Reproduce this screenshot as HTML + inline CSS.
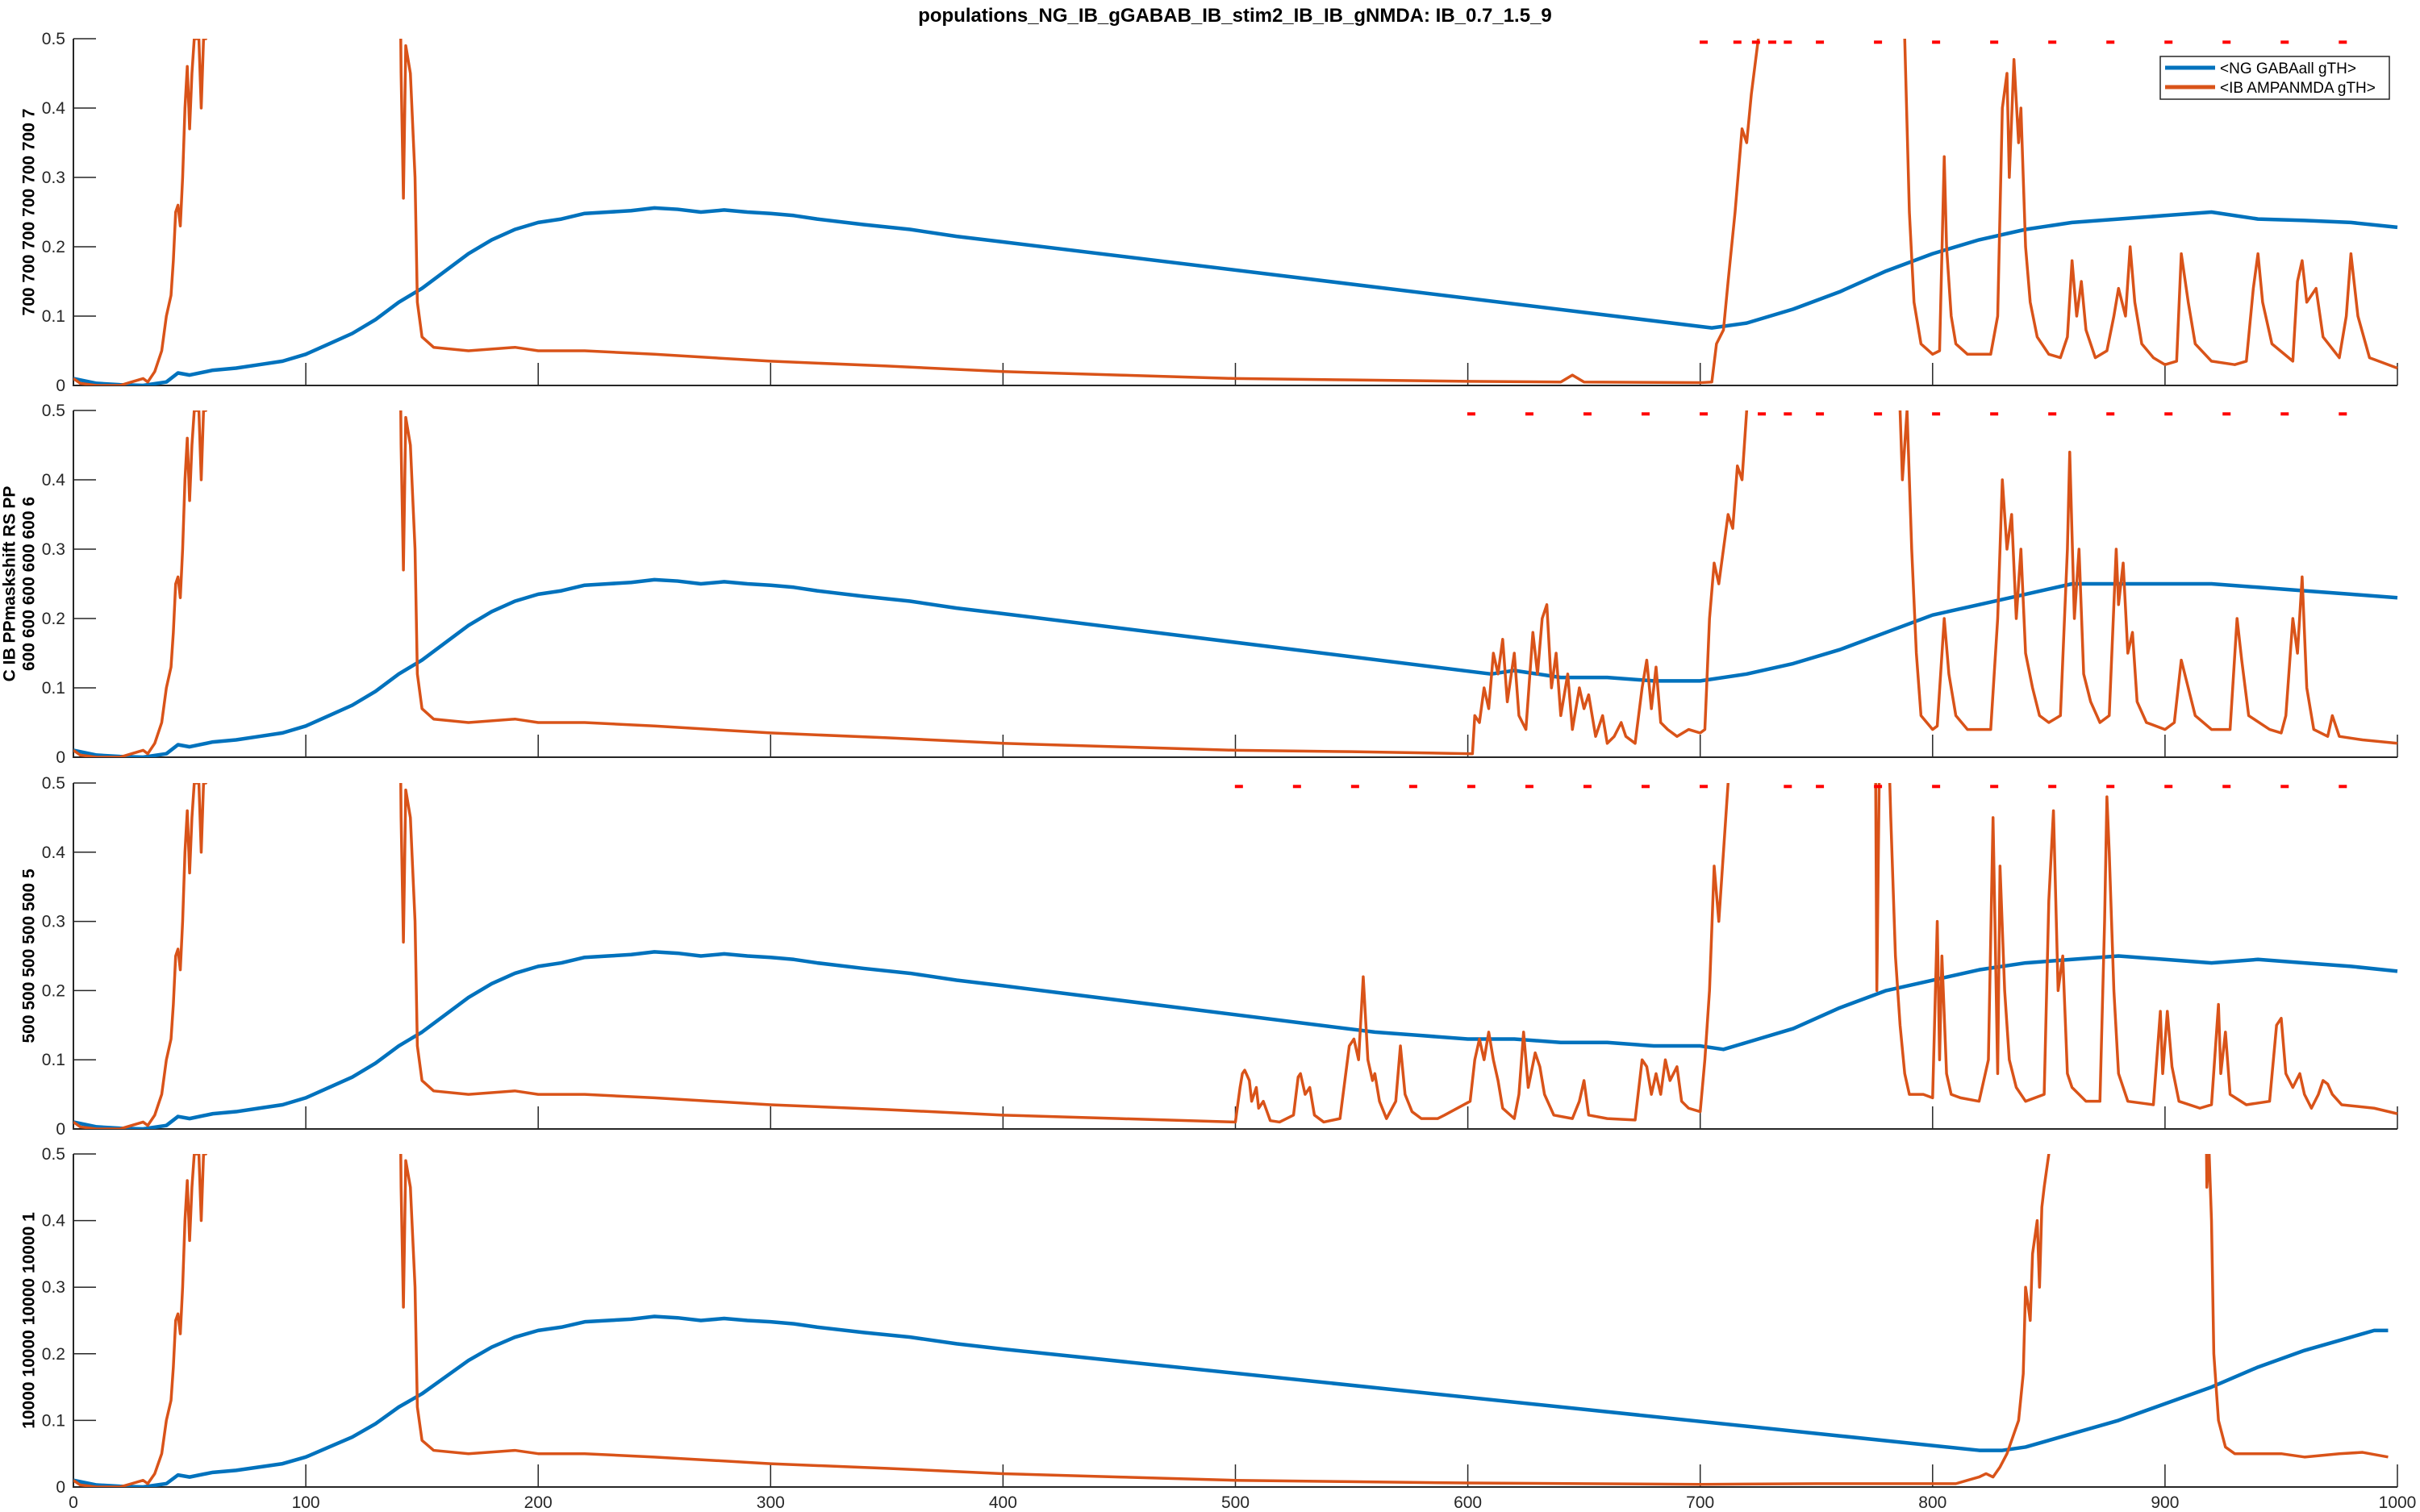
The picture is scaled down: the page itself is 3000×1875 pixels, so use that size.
<!DOCTYPE html>
<html><head><meta charset="utf-8"><style>
html,body{margin:0;padding:0;background:#fff;}
svg{display:block;font-family:"Liberation Sans",sans-serif;}
</style></head><body>
<svg id="chart" width="3000" height="1875" viewBox="0 0 3000 1875" xmlns="http://www.w3.org/2000/svg">
<text x="1531" y="27" text-anchor="middle" font-size="24" font-weight="bold" fill="#000">populations_NG_IB_gGABAB_IB_stim2_IB_IB_gNMDA: IB_0.7_1.5_9</text>
<g id="panels"></g>
<g>
<rect x="2678" y="70" width="284" height="53" fill="#fff" stroke="#262626" stroke-width="1.5"/>
<line x1="2684" y1="84" x2="2746" y2="84" stroke="#0072BD" stroke-width="5"/>
<text x="2752" y="91" font-size="19" fill="#000">&lt;NG GABAall gTH&gt;</text>
<line x1="2684" y1="108" x2="2746" y2="108" stroke="#D95319" stroke-width="5"/>
<text x="2752" y="115" font-size="19" fill="#000">&lt;IB AMPANMDA gTH&gt;</text>
</g>
</svg>
<script>
const xTicks=[0,100,200,300,400,500,600,700,800,900,1000];
const yTicks=[0,0.1,0.2,0.3,0.4,0.5];
const yTickLabels=["0","0.1","0.2","0.3","0.4","0.5"];
const yLabels1=["700 700 700 700 700 700 7"];
const yLabels2=["C IB PPmaskshift RS PP","600 600 600 600 600 6"];
const yLabels3=["500 500 500 500 500 5"];
const yLabels4=["10000 10000 10000 10000 1"];
// shared early blue
const blueT0=[0,10,20,30,40,45,50,60,70,80,90,100,110,120,130,140,150,160,170,180,190,200,210,220,230,240,250,260,270,280,290,300,310,320,340,360,380,400];
const blueV0=[0.01,0.003,0.001,0,0.005,0.018,0.015,0.022,0.025,0.03,0.035,0.045,0.06,0.075,0.095,0.12,0.14,0.165,0.19,0.21,0.225,0.235,0.24,0.248,0.25,0.252,0.256,0.254,0.25,0.253,0.25,0.248,0.245,0.24,0.232,0.225,0.215,0.207];
const blueT1=[705,720,740,760,780,800,820,840,860,880,900,920,940,960,980,1000];
const blueV1=[0.083,0.09,0.11,0.135,0.165,0.19,0.21,0.225,0.235,0.24,0.245,0.25,0.24,0.238,0.235,0.228];
const blueT2=[610,620,640,660,680,700,720,740,760,780,800,820,840,860,880,900,920,940,960,980,1000];
const blueV2=[0.12,0.125,0.115,0.115,0.11,0.11,0.12,0.135,0.155,0.18,0.205,0.22,0.235,0.25,0.25,0.25,0.25,0.245,0.24,0.235,0.23];
const blueT3=[560,580,600,620,640,660,680,700,710,720,740,760,780,800,820,840,860,880,900,920,940,960,980,1000];
const blueV3=[0.14,0.135,0.13,0.13,0.125,0.125,0.12,0.12,0.115,0.125,0.145,0.175,0.2,0.215,0.23,0.24,0.245,0.25,0.245,0.24,0.245,0.24,0.235,0.228];
const blueT4=[820,830,840,860,880,900,920,940,960,980,990,996];
const blueV4=[0.055,0.055,0.06,0.08,0.1,0.125,0.15,0.18,0.205,0.225,0.235,0.235];
// shared early orange
const orT0=[0,3,10,20,25,30,32,35,38,40,42,43,44,45,46,47,48,49,50,51,52,54,55,56,57,58,140,141,142,143,145,147,148,150,155,170,190,200,220,250,300,350,400,450];
const orV0=[0.01,0.003,0,0,0.005,0.01,0.005,0.02,0.05,0.1,0.13,0.18,0.25,0.26,0.23,0.3,0.4,0.46,0.37,0.45,0.5,0.5,0.4,0.5,0.5,0.8,0.8,0.45,0.27,0.49,0.45,0.3,0.12,0.07,0.055,0.05,0.055,0.05,0.05,0.045,0.035,0.028,0.02,0.015];
const orT1=[500,550,600,640,645,650,700,705,707,710,712,715,718,720,722,725,727,787,788,790,792,795,800,803,805,806,808,810,815,825,828,830,832,833,835,837,838,840,842,845,850,855,858,860,862,864,866,870,875,878,880,883,885,887,890,895,900,905,907,910,913,920,930,935,938,940,942,946,955,957,959,961,965,968,975,978,980,983,988,1000];
const orV1=[0.01,0.008,0.006,0.005,0.015,0.005,0.004,0.005,0.06,0.08,0.15,0.25,0.37,0.35,0.42,0.5,0.8,0.8,0.5,0.25,0.12,0.06,0.045,0.05,0.33,0.2,0.1,0.06,0.045,0.045,0.1,0.4,0.45,0.3,0.47,0.35,0.4,0.2,0.12,0.07,0.045,0.04,0.07,0.18,0.1,0.15,0.08,0.04,0.05,0.1,0.14,0.1,0.2,0.12,0.06,0.04,0.03,0.035,0.19,0.12,0.06,0.035,0.03,0.035,0.14,0.19,0.12,0.06,0.035,0.15,0.18,0.12,0.14,0.07,0.04,0.1,0.19,0.1,0.04,0.025];
const orT2=[500,550,602,603,605,607,609,611,613,615,617,620,622,625,628,630,632,634,636,638,640,643,645,648,650,652,655,658,660,663,666,668,672,675,677,679,681,683,686,690,695,700,702,704,706,708,710,712,714,716,718,720,722,785,786,787,789,791,793,795,800,802,805,807,810,815,825,828,830,832,834,836,838,840,843,846,850,855,858,859,861,863,865,868,872,876,879,880,882,884,886,888,892,900,904,907,910,913,920,928,931,933,936,945,950,952,955,957,959,961,964,970,972,975,985,1000];
const orV2=[0.01,0.008,0.005,0.06,0.05,0.1,0.07,0.15,0.12,0.17,0.08,0.15,0.06,0.04,0.18,0.12,0.2,0.22,0.1,0.15,0.06,0.12,0.04,0.1,0.07,0.09,0.03,0.06,0.02,0.03,0.05,0.03,0.02,0.1,0.14,0.07,0.13,0.05,0.04,0.03,0.04,0.035,0.04,0.2,0.28,0.25,0.3,0.35,0.33,0.42,0.4,0.5,0.8,0.8,0.5,0.4,0.5,0.3,0.15,0.06,0.04,0.045,0.2,0.12,0.06,0.04,0.04,0.2,0.4,0.3,0.35,0.2,0.3,0.15,0.1,0.06,0.05,0.06,0.3,0.44,0.2,0.3,0.12,0.08,0.05,0.06,0.3,0.22,0.28,0.15,0.18,0.08,0.05,0.04,0.05,0.14,0.1,0.06,0.04,0.04,0.2,0.14,0.06,0.04,0.035,0.06,0.2,0.15,0.26,0.1,0.04,0.03,0.06,0.03,0.025,0.02];
const orT3=[500,502,503,504,506,507,509,510,512,515,519,525,527,528,530,532,534,538,545,549,551,553,555,557,559,560,562,565,569,571,573,576,580,587,590,601,603,605,607,609,611,613,615,620,622,624,626,629,631,633,637,645,648,650,652,660,672,675,677,679,681,683,685,687,690,692,695,700,702,704,706,708,710,712,714,775,776,777,779,782,784,786,788,790,796,800,802,803,804,806,808,812,820,824,826,828,829,831,833,836,840,848,850,852,854,856,858,860,866,872,874,875,876,878,880,884,895,898,899,901,903,906,915,920,923,924,926,928,935,945,948,950,952,955,958,960,963,966,968,970,972,976,990,1000];
const orV3=[0.01,0.06,0.08,0.085,0.07,0.04,0.06,0.03,0.04,0.012,0.01,0.02,0.075,0.08,0.05,0.06,0.02,0.01,0.015,0.12,0.13,0.1,0.22,0.1,0.07,0.08,0.04,0.015,0.04,0.12,0.05,0.025,0.015,0.015,0.02,0.04,0.1,0.13,0.1,0.14,0.1,0.07,0.03,0.015,0.05,0.14,0.06,0.11,0.09,0.05,0.02,0.015,0.04,0.07,0.02,0.015,0.013,0.1,0.09,0.05,0.08,0.05,0.1,0.07,0.09,0.04,0.03,0.025,0.1,0.2,0.38,0.3,0.4,0.5,0.8,0.8,0.2,0.5,0.8,0.45,0.25,0.15,0.08,0.05,0.05,0.045,0.3,0.1,0.25,0.08,0.05,0.045,0.04,0.1,0.45,0.08,0.38,0.2,0.1,0.06,0.04,0.05,0.33,0.46,0.2,0.25,0.08,0.06,0.04,0.04,0.3,0.48,0.4,0.2,0.08,0.04,0.035,0.17,0.08,0.17,0.09,0.04,0.03,0.035,0.18,0.08,0.14,0.05,0.035,0.04,0.15,0.16,0.08,0.06,0.08,0.05,0.03,0.05,0.07,0.065,0.05,0.035,0.03,0.022];
const orT4=[500,550,600,650,700,750,800,810,815,820,823,826,829,832,835,837,839,840,842,843,845,846,847,848,850,851,917,918,919,920,921,923,926,930,950,960,975,985,996];
const orV4=[0.01,0.008,0.006,0.005,0.004,0.005,0.005,0.005,0.01,0.015,0.02,0.015,0.03,0.05,0.08,0.1,0.17,0.3,0.25,0.35,0.4,0.3,0.42,0.45,0.5,0.8,0.8,0.45,0.5,0.4,0.2,0.1,0.06,0.05,0.05,0.045,0.05,0.052,0.045];
const dots1=[701.5,716,724,731,737.7,751.5,776.5,801.5,826.5,851.5,876.5,901.5,926.5,951.5,976.5];
const dots2=[601.5,626.5,651.5,676.5,701.5,726.5,737.7,751.5,776.5,801.5,826.5,851.5,876.5,901.5,926.5,951.5,976.5];
const dots3=[501.5,526.5,551.5,576.5,601.5,626.5,651.5,676.5,701.5,737.7,751.5,776.5,801.5,826.5,851.5,876.5,901.5,926.5,951.5,976.5];
const dots4=[];

const NS="http://www.w3.org/2000/svg";
const X0=91,X1=2972;
function xS(t){return X0+(t/1000)*(X1-X0);}
const panels=[
 {top:48,bot:478,bt:blueT1,bv:blueV1,ot:orT1,ov:orV1,dots:dots1,lab:yLabels1,cut:400,ocut:450,xl:false},
 {top:509,bot:939,bt:blueT2,bv:blueV2,ot:orT2,ov:orV2,dots:dots2,lab:yLabels2,cut:400,ocut:450,xl:false},
 {top:971,bot:1400,bt:blueT3,bv:blueV3,ot:orT3,ov:orV3,dots:dots3,lab:yLabels3,cut:400,ocut:450,xl:false},
 {top:1431,bot:1844,bt:blueT4,bv:blueV4,ot:orT4,ov:orV4,dots:dots4,lab:yLabels4,cut:400,ocut:450,xl:true}
];
const root=document.getElementById('panels');
function mk(tag,attrs,parent){const e=document.createElementNS(NS,tag);for(const k in attrs)e.setAttribute(k,attrs[k]);parent.appendChild(e);return e;}
panels.forEach((p,i)=>{
 const yS=v=>p.bot-(v/0.5)*(p.bot-p.top);
 const g=mk('g',{},root);
 
 
 const cp=mk('clipPath',{id:'clip'+i},g);
 mk('rect',{x:X0,y:p.top,width:X1-X0+4,height:p.bot-p.top},cp);
 // axes
 const ax=mk('path',{d:`M${X0},${p.top}V${p.bot}H${X1}`,fill:'none',stroke:'#262626','stroke-width':2},g);
 
 
 yTicks.forEach((v,k)=>{
  mk('line',{x1:X0,x2:X0+28,y1:yS(v),y2:yS(v),stroke:'#262626','stroke-width':1.5},g);
  const t=mk('text',{x:X0-10,y:yS(v)+7,'text-anchor':'end','font-size':21,fill:'#262626'},g);
  
  
  t.textContent=yTickLabels[k];
 });
 xTicks.forEach(v=>{
  mk('line',{x1:xS(v),x2:xS(v),y1:p.bot,y2:p.bot-28,stroke:'#262626','stroke-width':1.5},g);
  if(p.xl){const t=mk('text',{x:xS(v),y:p.bot+26,'text-anchor':'middle','font-size':21,fill:'#262626'},g);
   
   
   t.textContent=String(v);}
 });
 const cy=(p.top+p.bot)/2;
 const n=p.lab.length;
 p.lab.forEach((s,k)=>{
  const lx=n===1?36:(k===0?12:36);
  const t=mk('text',{x:lx,y:cy,transform:`rotate(-90 ${lx} ${cy})`,'text-anchor':'middle','dominant-baseline':'central','font-size':21,'font-weight':'bold',fill:'#000'},g);
  
  
  t.textContent=s;
 });
 const cg=mk('g',{'clip-path':`url(#clip${i})`},g);
 const bt=blueT0.concat(p.bt), bv=blueV0.concat(p.bv);
 const bl=mk('polyline',{points:bt.map((t,k)=>xS(t)+','+yS(bv[k])).join(' '),fill:'none',stroke:'#0072BD','stroke-width':4.5,'stroke-linejoin':'round'},cg);
 
 
 const ot=orT0.concat(p.ot), ov=orV0.concat(p.ov);
 const ol=mk('polyline',{points:ot.map((t,k)=>xS(t)+','+yS(ov[k])).join(' '),fill:'none',stroke:'#D95319','stroke-width':3.5,'stroke-linejoin':'round'},cg);
 
 
 p.dots.forEach(t=>{
  const d=mk('rect',{x:xS(t)-5,y:yS(0.495)-2,width:10,height:4,fill:'#FF0000'},g);
  
  
 });
});
</script>
</body></html>
